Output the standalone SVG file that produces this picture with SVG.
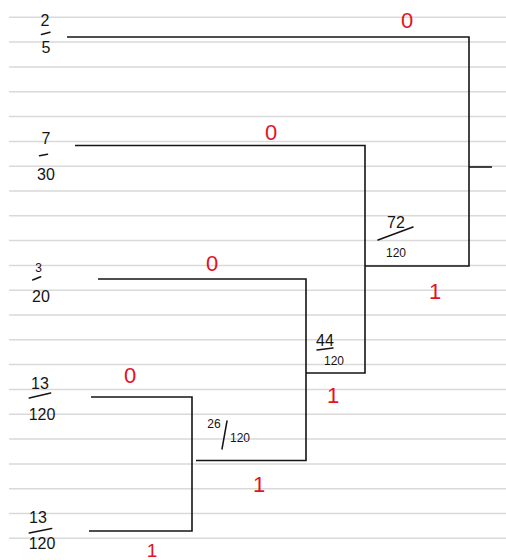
<svg xmlns="http://www.w3.org/2000/svg" width="506" height="560" viewBox="0 0 506 560">
<style>
.rule{stroke:#d9d9d9;stroke-width:1.5}
.edge{fill:none;stroke:#141414;stroke-width:1.6;stroke-linejoin:miter}
.num{font-family:"Liberation Sans",Arial,sans-serif;font-size:16px;fill:#141414;text-anchor:middle}
.sm{font-size:12px}
.bar{stroke:#141414;stroke-width:1.5;stroke-linecap:round}
.bit{font-family:"Liberation Sans",Arial,sans-serif;font-size:22px;fill:#e3131b;text-anchor:middle}
</style>
<rect width="506" height="560" fill="#ffffff"/>
<g id="paper">
<line class="rule" x1="9" y1="17.3" x2="506" y2="17.3"/>
<line class="rule" x1="9" y1="42.1" x2="506" y2="42.1"/>
<line class="rule" x1="9" y1="66.9" x2="506" y2="66.9"/>
<line class="rule" x1="9" y1="91.7" x2="506" y2="91.7"/>
<line class="rule" x1="9" y1="116.5" x2="506" y2="116.5"/>
<line class="rule" x1="9" y1="141.4" x2="506" y2="141.4"/>
<line class="rule" x1="9" y1="166.2" x2="506" y2="166.2"/>
<line class="rule" x1="9" y1="191.0" x2="506" y2="191.0"/>
<line class="rule" x1="9" y1="215.8" x2="506" y2="215.8"/>
<line class="rule" x1="9" y1="240.6" x2="506" y2="240.6"/>
<line class="rule" x1="9" y1="265.4" x2="506" y2="265.4"/>
<line class="rule" x1="9" y1="290.2" x2="506" y2="290.2"/>
<line class="rule" x1="9" y1="315.0" x2="506" y2="315.0"/>
<line class="rule" x1="9" y1="339.8" x2="506" y2="339.8"/>
<line class="rule" x1="9" y1="364.6" x2="506" y2="364.6"/>
<line class="rule" x1="9" y1="389.5" x2="506" y2="389.5"/>
<line class="rule" x1="9" y1="414.3" x2="506" y2="414.3"/>
<line class="rule" x1="9" y1="439.1" x2="506" y2="439.1"/>
<line class="rule" x1="9" y1="463.9" x2="506" y2="463.9"/>
<line class="rule" x1="9" y1="488.7" x2="506" y2="488.7"/>
<line class="rule" x1="9" y1="513.5" x2="506" y2="513.5"/>
<line class="rule" x1="9" y1="538.3" x2="506" y2="538.3"/>
</g>
<g id="connectors">
<path class="edge" d="M67,37 H469 V266 H365"/>
<path class="edge" d="M469,167 H492"/>
<path class="edge" d="M75,145.5 H365 V373 H306"/>
<path class="edge" d="M98,279 H306 V460.5 H196"/>
<path class="edge" d="M91,397 H192 V531 H89"/>
</g>
<g id="leaf-2-5">
<text class="num" x="45" y="26">2</text>
<line class="bar" x1="41.5" y1="34.5" x2="50" y2="32.3"/>
<text class="num" x="46" y="53">5</text>
</g>
<g id="leaf-7-30">
<text class="num" x="46" y="144">7</text>
<line class="bar" x1="39.5" y1="155.7" x2="47.5" y2="154.3"/>
<text class="num" x="46" y="180">30</text>
</g>
<g id="leaf-3-20">
<text class="num sm" x="38.5" y="272">3</text>
<line class="bar" x1="32.7" y1="280" x2="40.7" y2="276.7"/>
<text class="num" x="41" y="302">20</text>
</g>
<g id="leaf-13-120-a">
<text class="num" x="40" y="389">13</text>
<line class="bar" x1="29.3" y1="398" x2="50.7" y2="393"/>
<text class="num" x="42" y="420">120</text>
</g>
<g id="leaf-13-120-b">
<text class="num" x="38" y="523">13</text>
<line class="bar" x1="29.3" y1="533" x2="51.7" y2="528.5"/>
<text class="num" x="42" y="549">120</text>
</g>
<g id="node-72-120">
<text class="num" x="396" y="228">72</text>
<line class="bar" x1="378" y1="240" x2="413" y2="227"/>
<text class="num sm" x="396" y="257">120</text>
</g>
<g id="node-44-120">
<text class="num" x="325" y="346">44</text>
<line class="bar" x1="317" y1="350" x2="333" y2="348"/>
<text class="num sm" x="334" y="365">120</text>
</g>
<g id="node-26-120">
<text class="num sm" x="214" y="428">26</text>
<line class="bar" x1="222" y1="449" x2="227" y2="421"/>
<text class="num sm" x="240" y="442">120</text>
</g>
<g id="bits">
<text class="bit" x="407" y="28">0</text>
<text class="bit" x="271" y="140">0</text>
<text class="bit" x="212" y="271">0</text>
<text class="bit" x="130" y="383">0</text>
<text class="bit" x="435" y="299">1</text>
<text class="bit" x="333" y="403">1</text>
<text class="bit" x="259" y="492">1</text>
<text class="bit" x="152" y="557" style="font-size:19px">1</text>
</g>
</svg>
